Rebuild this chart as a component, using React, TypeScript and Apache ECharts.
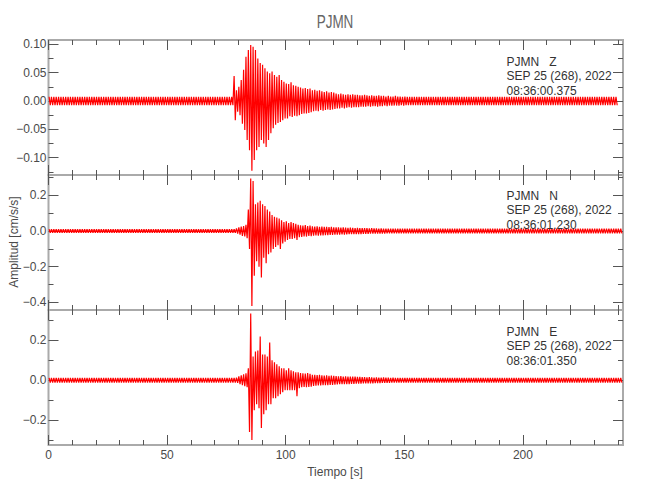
import React, { useEffect, useRef } from "react";
import * as echarts from "echarts";

// ---------- data ----------
const TITLE = "PJMN";
const X_NAME = "Tiempo [s]";
const Y_NAME = "Amplitud [cm/s/s]";
const TIME_MAX = 242.2; // s
const X_MAJOR = [0, 50, 100, 150, 200];
const X_MINOR = [10, 20, 30, 40, 60, 70, 80, 90, 110, 120, 130, 140, 160, 170, 180, 190, 210, 220, 230, 240];

// each trace: 1-s bins, max and min of the signal in each bin
const EVENT_START = 78; // first second of the event arrays
const Z_BINS = 240;
const N_BINS = 242;
const E_BINS = 242;

// background noise half-width before / after the event
const Z_NOISE = [0.0075, 0.0075];
const N_NOISE = [0.01, 0.013];
const E_NOISE = [0.012, 0.012];

// Z component, 78 s .. 150 s
const zEventMax = [
  0.044, 0.019, 0.025, 0.037, 0.055, 0.078, 0.09, 0.099, 0.096, 0.09,
  0.075, 0.067, 0.064, 0.058, 0.052, 0.049, 0.052, 0.046, 0.043, 0.046,
  0.037, 0.034, 0.031, 0.03, 0.033, 0.028, 0.027, 0.025, 0.024, 0.022,
  0.023, 0.021, 0.022, 0.019, 0.02, 0.018, 0.019, 0.017, 0.016, 0.017,
  0.015, 0.016, 0.015, 0.013, 0.012, 0.013, 0.012, 0.011, 0.012, 0.011,
  0.012, 0.011, 0.011, 0.01, 0.01, 0.011, 0.01, 0.009, 0.01, 0.009,
  0.009, 0.01, 0.009, 0.009, 0.008, 0.009, 0.008, 0.008, 0.009, 0.008,
  0.008, 0.0075, 0.008,
];
const zEventMin = [
  -0.034, -0.019, -0.025, -0.04, -0.051, -0.069, -0.087, -0.123, -0.104, -0.087,
  -0.081, -0.069, -0.075, -0.081, -0.069, -0.057, -0.048, -0.042, -0.039, -0.037,
  -0.034, -0.031, -0.031, -0.027, -0.028, -0.026, -0.027, -0.025, -0.023, -0.022,
  -0.022, -0.021, -0.02, -0.018, -0.017, -0.018, -0.016, -0.017, -0.016, -0.015,
  -0.016, -0.015, -0.014, -0.013, -0.013, -0.012, -0.013, -0.012, -0.011, -0.012,
  -0.011, -0.011, -0.011, -0.01, -0.01, -0.01, -0.009, -0.01, -0.009, -0.009,
  -0.01, -0.009, -0.009, -0.008, -0.009, -0.008, -0.008, -0.008, -0.008, -0.008,
  -0.0075, -0.008, -0.0075,
];

// N component, 78 s .. 150 s
const nEventMax = [
  0.01, 0.015, 0.02, 0.025, 0.028, 0.035, 0.12, 0.295, 0.28, 0.15,
  0.16, 0.17, 0.15, 0.14, 0.12, 0.11, 0.09, 0.08, 0.075, 0.07,
  0.06, 0.05, 0.055, 0.045, 0.05, 0.045, 0.04, 0.035, 0.032, 0.03,
  0.033, 0.028, 0.03, 0.026, 0.025, 0.027, 0.024, 0.025, 0.023, 0.024,
  0.022, 0.023, 0.021, 0.02, 0.021, 0.019, 0.02, 0.019, 0.018, 0.019,
  0.018, 0.017, 0.018, 0.017, 0.016, 0.017, 0.016, 0.015, 0.016, 0.015,
  0.015, 0.014, 0.015, 0.014, 0.014, 0.013, 0.014, 0.013, 0.013, 0.013,
  0.013, 0.013, 0.013,
];
const nEventMin = [
  -0.01, -0.015, -0.02, -0.028, -0.03, -0.04, -0.1, -0.42, -0.25, -0.17,
  -0.2, -0.26, -0.15, -0.18, -0.13, -0.12, -0.1, -0.09, -0.08, -0.1,
  -0.07, -0.06, -0.05, -0.045, -0.045, -0.04, -0.05, -0.035, -0.033, -0.03,
  -0.031, -0.028, -0.029, -0.026, -0.025, -0.026, -0.024, -0.024, -0.023, -0.023,
  -0.022, -0.022, -0.021, -0.02, -0.02, -0.019, -0.02, -0.019, -0.018, -0.018,
  -0.018, -0.017, -0.017, -0.017, -0.016, -0.016, -0.016, -0.015, -0.015, -0.015,
  -0.014, -0.014, -0.014, -0.014, -0.013, -0.013, -0.013, -0.013, -0.013, -0.013,
  -0.013, -0.013, -0.013,
];

// E component, 78 s .. 150 s
const eEventMax = [
  0.012, 0.013, 0.02, 0.025, 0.03, 0.035, 0.06, 0.335, 0.12, 0.145,
  0.15, 0.22, 0.13, 0.13, 0.12, 0.19, 0.1, 0.09, 0.08, 0.07,
  0.06, 0.06, 0.05, 0.06, 0.05, 0.045, 0.04, 0.04, 0.036, 0.035,
  0.034, 0.036, 0.033, 0.028, 0.027, 0.026, 0.027, 0.025, 0.024, 0.025,
  0.023, 0.024, 0.022, 0.021, 0.02, 0.021, 0.019, 0.02, 0.019, 0.018,
  0.019, 0.018, 0.017, 0.017, 0.016, 0.016, 0.015, 0.016, 0.015, 0.014,
  0.015, 0.014, 0.013, 0.014, 0.013, 0.013, 0.012, 0.013, 0.012, 0.012,
  0.012, 0.012, 0.012,
];
const eEventMin = [
  -0.012, -0.013, -0.02, -0.025, -0.03, -0.035, -0.26, -0.3, -0.15, -0.12,
  -0.14, -0.24, -0.17, -0.15, -0.12, -0.12, -0.09, -0.09, -0.08, -0.07,
  -0.06, -0.05, -0.05, -0.05, -0.05, -0.05, -0.08, -0.04, -0.035, -0.034,
  -0.035, -0.033, -0.032, -0.028, -0.027, -0.026, -0.026, -0.025, -0.024, -0.024,
  -0.023, -0.023, -0.022, -0.021, -0.02, -0.02, -0.019, -0.019, -0.019, -0.018,
  -0.018, -0.017, -0.017, -0.017, -0.016, -0.016, -0.015, -0.015, -0.015, -0.014,
  -0.014, -0.014, -0.013, -0.013, -0.013, -0.013, -0.012, -0.012, -0.012, -0.012,
  -0.012, -0.012, -0.012,
];

// y axes of the three panels
const Y_RANGES = [
  [-0.1307, 0.1078],
  [-0.4426, 0.314],
  [-0.325, 0.353],
];
const Y_MAJOR = [
  [-0.1, -0.05, 0, 0.05, 0.1],
  [-0.4, -0.2, 0, 0.2],
  [-0.2, 0, 0.2],
];
const Y_MINOR = [
  [-0.125, -0.075, -0.025, 0.025, 0.075],
  [-0.3, -0.1, 0.1, 0.3],
  [-0.3, -0.1, 0.1, 0.3],
];
const Y_DECIMALS = [2, 1, 1];

const STATIONS = ["PJMN   Z", "PJMN   N", "PJMN   E"];
const DATE_LINE = "SEP 25 (268), 2022";
const START_TIMES = ["08:36:00.375", "08:36:01.230", "08:36:01.350"];

// ---------- styling / layout ----------
const FONT = "'Liberation Sans', Arial, sans-serif";
const TEXT = "#4a4a4a";
const TICK = "#555555";
const BORDER = "#aaaaaa";
const RED = "#ff0000";
const GRID_LEFT = 48.5;
const GRID_RIGHT = 27;
const PANEL_TOPS = [40, 175, 310];
const PANEL_H = 135;
const NOTE_TOPS = [54.5, 188.5, 324.5];

function buildTrace(nBins: number, noise: number[], evMax: number[], evMin: number[]) {
  const pts: number[][] = [];
  for (let i = 0; i < nBins; i++) {
    const k = i - EVENT_START;
    let hi: number, lo: number;
    if (k < 0) {
      hi = noise[0];
      lo = -noise[0];
    } else if (k < evMax.length) {
      hi = evMax[k];
      lo = evMin[k];
    } else {
      hi = noise[1];
      lo = -noise[1];
    }
    pts.push([i + 0.25, hi]);
    pts.push([i + 0.75, lo]);
  }
  return pts;
}

function fmt(v: number, d: number) {
  return v.toFixed(d).replace("-", "\u2212");
}

export default function App() {
  const ref = useRef<HTMLDivElement | null>(null);

  useEffect(() => {
    if (!ref.current) return;
    const chart = echarts.init(ref.current, null, { renderer: "svg" });

    const traces = [
      buildTrace(Z_BINS, Z_NOISE, zEventMax, zEventMin),
      buildTrace(N_BINS, N_NOISE, nEventMax, nEventMin),
      buildTrace(E_BINS, E_NOISE, eEventMax, eEventMin),
    ];

    const grids = PANEL_TOPS.map((top) => ({
      left: GRID_LEFT,
      right: GRID_RIGHT,
      top,
      height: PANEL_H,
      show: true,
      borderColor: BORDER,
      borderWidth: 2,
      backgroundColor: "transparent",
    }));

    const xAxes: any[] = [];
    const yAxes: any[] = [];
    for (let p = 0; p < 3; p++) {
      for (const pos of ["bottom", "top"]) {
        for (const major of [true, false]) {
          xAxes.push({
            gridIndex: p,
            type: "value",
            position: pos,
            min: 0,
            max: TIME_MAX,
            axisLine: { show: false, onZero: false },
            splitLine: { show: false },
            axisTick: {
              show: true,
              inside: true,
              length: major ? 10 : 5,
              customValues: major ? X_MAJOR : X_MINOR,
              lineStyle: { color: TICK, width: 1 },
            },
            axisLabel: {
              show: major && pos === "bottom" && p === 2,
              customValues: X_MAJOR,
              margin: 4,
              color: TEXT,
              fontSize: 12,
              fontFamily: FONT,
            },
          });
        }
      }
      for (const pos of ["left", "right"]) {
        for (const major of [true, false]) {
          yAxes.push({
            gridIndex: p,
            type: "value",
            position: pos,
            min: Y_RANGES[p][0],
            max: Y_RANGES[p][1],
            axisLine: { show: false, onZero: false },
            splitLine: { show: false },
            axisTick: {
              show: true,
              inside: true,
              length: major ? 10 : 5,
              customValues: major ? Y_MAJOR[p] : Y_MINOR[p],
              lineStyle: { color: TICK, width: 1 },
            },
            axisLabel: {
              show: major && pos === "left",
              customValues: Y_MAJOR[p],
              margin: 2,
              color: TEXT,
              fontSize: 12,
              fontFamily: FONT,
              formatter: (v: number) => fmt(v, Y_DECIMALS[p]),
            },
          });
        }
      }
    }

    const series = traces.map((data, p) => ({
      type: "line",
      xAxisIndex: p * 4,
      yAxisIndex: p * 4,
      data,
      showSymbol: false,
      symbol: "none",
      lineStyle: { color: RED, width: 1.2 },
      silent: true,
      z: 3,
    }));

    const textStyle = (extra: any) => ({
      fill: TEXT,
      fontFamily: FONT,
      ...extra,
    });

    const graphics: any[] = [
      {
        type: "text",
        x: 335,
        y: 22,
        scaleX: 0.75,
        style: textStyle({
          text: TITLE,
          fontSize: 18,
          fill: "#666666",
          align: "center",
          verticalAlign: "middle",
          textAlign: "center",
          textVerticalAlign: "middle",
        }),
      },
      {
        type: "text",
        x: 335,
        y: 472,
        style: textStyle({
          text: X_NAME,
          fontSize: 12,
          align: "center",
          verticalAlign: "middle",
          textAlign: "center",
          textVerticalAlign: "middle",
        }),
      },
      {
        type: "text",
        x: 14,
        y: 242,
        rotation: Math.PI / 2,
        style: textStyle({
          text: Y_NAME,
          fontSize: 12,
          align: "center",
          verticalAlign: "middle",
          textAlign: "center",
          textVerticalAlign: "middle",
        }),
      },
    ];
    for (let p = 0; p < 3; p++) {
      graphics.push({
        type: "text",
        x: 506.5,
        y: NOTE_TOPS[p],
        z: 10,
        style: textStyle({
          text: [STATIONS[p], DATE_LINE, START_TIMES[p]].join("\n"),
          fontSize: 12,
          lineHeight: 14.5,
          fill: "#333333",
          align: "left",
          verticalAlign: "top",
          textAlign: "left",
          textVerticalAlign: "top",
        }),
      });
    }

    chart.setOption({
      animation: false,
      backgroundColor: "#ffffff",
      grid: grids,
      xAxis: xAxes,
      yAxis: yAxes,
      series,
      graphic: graphics,
    });

    return () => chart.dispose();
  }, []);

  return (
    <div
      ref={ref}
      style={{ position: "fixed", left: 0, top: 0, width: 650, height: 500 }}
    />
  );
}
